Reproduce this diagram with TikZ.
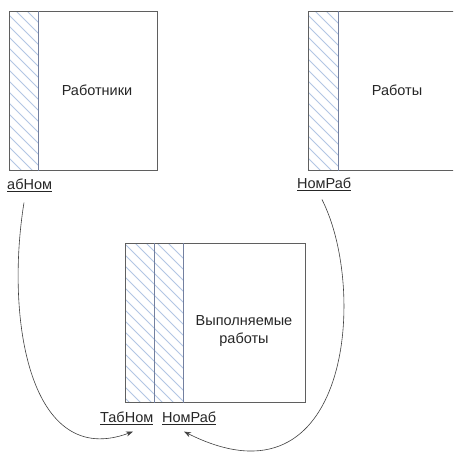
\documentclass[tikz,border=0pt]{standalone}
\usepackage{fontspec}
\setmainfont{Liberation Sans}
\usetikzlibrary{arrows.meta,calc}
\definecolor{hatchc}{RGB}{178,198,228}
\definecolor{sepc}{RGB}{115,128,160}
\definecolor{edgec}{RGB}{95,95,95}
\begin{document}
\begin{tikzpicture}[x=1pt,y=-1pt,
  box/.style={draw=edgec, line width=0.7pt, inner sep=0pt, anchor=north west},
  sep/.style={draw=sepc, line width=0.6pt},
  txt/.style={font=\fontsize{14.5}{18}\selectfont, align=center, text=black!85},
  lbl/.style={font=\fontsize{14.5}{16}\selectfont, inner sep=1pt, anchor=west, text=black!85},
  hatch/.style={draw=hatchc, line width=0.8pt},
  link/.style={draw=black!75, line width=0.6pt, -{Stealth[length=7pt,width=5pt]}}]
\useasboundingbox (0,0) rectangle (453,453);
\clip (0,0) rectangle (453,453);
\fill[white] (0,0) rectangle (453,453);
% hatched strips
\begin{scope}
  \clip (9,11) rectangle (38,170);
  \foreach \k in {-40,-29,...,175} \draw[hatch] (9,\k) -- ++(40,40);
\end{scope}
\begin{scope}
  \clip (308,11) rectangle (338,170);
  \foreach \k in {-40,-29,...,175} \draw[hatch] (308,\k) -- ++(40,40);
\end{scope}
\begin{scope}
  \clip (125,243) rectangle (183,402);
  \foreach \k in {200,211,...,410} \draw[hatch] (125,\k) -- ++(70,70);
\end{scope}
% boxes
\node[box, minimum width=148pt, minimum height=159pt] (rab) at (9,11) {};
\node[box, minimum width=148pt, minimum height=159pt] (raboty) at (308,11) {};
\node[box, minimum width=180pt, minimum height=159pt] (vyp) at (125,243) {};
\draw[sep] ($(rab.north west)+(29,0)$) -- ($(rab.south west)+(29,0)$);
\draw[sep] ($(raboty.north west)+(30,0)$) -- ($(raboty.south west)+(30,0)$);
\draw[sep] ($(vyp.north west)+(29,0)$) -- ($(vyp.south west)+(29,0)$);
\draw[sep] ($(vyp.north west)+(58,0)$) -- ($(vyp.south west)+(58,0)$);
% titles
\node[txt] (t1) at (97,90) {Работники};
\node[txt] (t2) at (397,90) {Работы};
\node[txt] (t3) at (244,331) {Выполняемые\\работы};
% key labels
\node[lbl] (abnom) at (6,185) {\underline{абНом}};
\node[lbl] (nomrab1) at (296,184) {\underline{НомРаб}};
\node[lbl] (tabnom) at (99,418) {\underline{ТабНом}};
\node[lbl] (nomrab2) at (161,418) {\underline{НомРаб}};
% connectors
\draw[link] ($(abnom.south west)+(18,10)$) .. controls (5,320) and (30,470) .. ($(tabnom.south west)+(34,6)$);
\draw[link] ($(nomrab1.south west)+(26,8)$) .. controls (368,290) and (350,515) .. ($(nomrab2.south west)+(23,6)$);
\end{tikzpicture}
\end{document}
